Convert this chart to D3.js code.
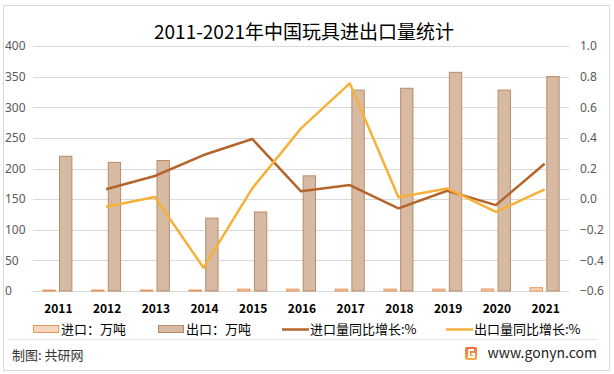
<!DOCTYPE html>
<html>
<head>
<meta charset="utf-8">
<script src="https://cdn.jsdelivr.net/npm/d3@7"></script>
<style>
    body { margin: 0; background: #fff; }
    svg text { font-family: "Noto Sans CJK SC", "Noto Sans", sans-serif; }
    .tick text { fill: #595959; font-size: 12px; font-family: "Noto Sans", "Liberation Sans", sans-serif; }
</style>
</head>
<body>
<script>
// Werte
const years = ["2011", "2012", "2013", "2014", "2015", "2016", "2017", "2018", "2019", "2020", "2021"]
const importVol = [1.5, 1.5, 1.5, 1.5, 3, 3, 3, 3, 3, 3.3, 5.4]
const exportVol = [220, 210, 213, 119, 129, 188, 328, 331, 357, 328, 350]
const importGrowth = [null, 0.064, 0.151, 0.288, 0.393, 0.051, 0.092, -0.06, 0.055, -0.039, 0.231]
const exportGrowth = [null, -0.05, 0.014, -0.448, 0.07, 0.462, 0.756, 0.012, 0.07, -0.084, 0.064]
const leftTicks = [0, 50, 100, 150, 200, 250, 300, 350, 400]
const rightTicks = [-0.6, -0.4, -0.2, 0, 0.2, 0.4, 0.6, 0.8, 1.0]
const barNames = ["进口：万吨", "出口：万吨"]
const lineNames = ["进口量同比增长:%", "出口量同比增长:%"]

const chartW = 614, chartH = 374
const plotLeft = 33, plotRight = 569, plotTop = 46, plotBottom = 291

const svg = d3.select("body").append("svg")
    .attr("width", chartW)
    .attr("height", chartH)

// Rahmen
svg.append("rect")
    .attr("x", 3.5).attr("y", 5.5)
    .attr("width", 606).attr("height", 365)
    .attr("fill", "#fff")
    .attr("stroke", "#d9d9d9")

const x0 = d3.scaleBand().domain(years).range([plotLeft, plotRight]).paddingInner(0.384).paddingOuter(0.192)
const x1 = d3.scaleBand().domain(barNames).range([0, x0.bandwidth()]).paddingInner(0.2)
const yL = d3.scaleLinear().domain([0, 400]).range([plotBottom, plotTop])
const yR = d3.scaleLinear().domain([-0.6, 1.0]).range([plotBottom, plotTop])

// Gitterlinien
svg.append("g")
    .selectAll("line")
    .data(leftTicks)
    .join("line")
    .attr("x1", plotLeft).attr("x2", plotRight)
    .attr("y1", d => Math.round(yL(d)) + 0.5)
    .attr("y2", d => Math.round(yL(d)) + 0.5)
    .attr("stroke", "#d9d9d9")

const axisL = svg.append("g")
    .attr("transform", `translate(${plotLeft - 10},0)`)
    .call(d3.axisLeft(yL).tickValues(leftTicks).tickSize(0).tickPadding(0))
axisL.select(".domain").remove()
axisL.selectAll(".tick text").attr("x", -18).attr("text-anchor", "start")

const axisR = svg.append("g")
    .attr("transform", `translate(${plotRight + 11},0)`)
    .call(d3.axisRight(yR).tickValues(rightTicks).tickSize(0).tickPadding(0).tickFormat(d3.format(".1f")))
axisR.select(".domain").remove()

// Jahre unten
svg.append("g")
    .selectAll("text")
    .data(years)
    .join("text")
    .attr("x", d => x0(d) + x0.bandwidth() / 2 + 1)
    .attr("y", 313)
    .attr("text-anchor", "middle")
    .attr("font-size", 12)
    .attr("font-weight", "bold")
    .attr("fill", "#000")
    .text(d => d)

// Balken
const barStyle = [
    { fill: "#f8d6bd", stroke: "#e5945a" },
    { fill: "#d7baa3", stroke: "#bb8b66" }
]
const barData = [importVol, exportVol]

barNames.forEach((name, i) => {
    svg.append("g")
        .selectAll("rect")
        .data(years)
        .join("rect")
        .attr("x", d => x0(d) + x1(name) + 0.5)
        .attr("y", (d, j) => yL(barData[i][j]))
        .attr("width", x1.bandwidth() - 1)
        .attr("height", (d, j) => plotBottom - yL(barData[i][j]))
        .attr("fill", barStyle[i].fill)
        .attr("stroke", barStyle[i].stroke)
        .attr("stroke-width", 1)
})

// Linien
const lineColors = ["#b5652b", "#f5b13a"]
const lineData = [importGrowth, exportGrowth]

lineData.forEach((values, i) => {
    const line = d3.line()
        .defined(d => d.v != null)
        .x(d => x0(d.year) + x0.bandwidth() / 2)
        .y(d => yR(d.v))
    svg.append("path")
        .datum(years.map((year, j) => ({ year: year, v: values[j] })))
        .attr("d", line)
        .attr("fill", "none")
        .attr("stroke", lineColors[i])
        .attr("stroke-width", 2.5)
        .attr("stroke-linejoin", "round")
})

// Titel
svg.append("text")
    .attr("x", 304).attr("y", 39)
    .attr("text-anchor", "middle")
    .attr("font-size", 19)
    .attr("fill", "#000")
    .text("2011-2021年中国玩具进出口量统计")

// Legende
const legend = svg.append("g").attr("font-size", 13).attr("fill", "#000")
const barLegendX = [33, 158]
barNames.forEach((name, i) => {
    legend.append("rect")
        .attr("x", barLegendX[i] + 0.5).attr("y", 325.5)
        .attr("width", 25).attr("height", 7)
        .attr("fill", barStyle[i].fill)
        .attr("stroke", barStyle[i].stroke)
    legend.append("text")
        .attr("x", barLegendX[i] + 28).attr("y", 334)
        .text(name)
})
const lineLegendX = [282, 446]
lineNames.forEach((name, i) => {
    legend.append("line")
        .attr("x1", lineLegendX[i]).attr("x2", lineLegendX[i] + 27)
        .attr("y1", 329.5).attr("y2", 329.5)
        .attr("stroke", lineColors[i])
        .attr("stroke-width", 2.5)
    legend.append("text")
        .attr("x", lineLegendX[i] + 28).attr("y", 334)
        .text(name)
})

// Trennlinie und Fußzeile
svg.append("line")
    .attr("x1", 8).attr("x2", 597)
    .attr("y1", 339.5).attr("y2", 339.5)
    .attr("stroke", "#e3e3e3")

svg.append("text")
    .attr("x", 12).attr("y", 360)
    .attr("font-size", 13)
    .attr("fill", "#333")
    .text("制图: 共研网")

svg.append("text")
    .attr("x", 597).attr("y", 358)
    .attr("text-anchor", "end")
    .attr("font-size", 14)
    .attr("font-family", "'Noto Sans', sans-serif")
    .attr("fill", "#222")
    .text("www.gonyn.com")

// kleines Logo
const logo = svg.append("g").attr("transform", "translate(465,347)")
const grad = svg.append("defs").append("linearGradient")
    .attr("id", "logoGrad").attr("x1", 0).attr("y1", 0).attr("x2", 0).attr("y2", 1)
grad.append("stop").attr("offset", 0).attr("stop-color", "#f06a3a")
grad.append("stop").attr("offset", 1).attr("stop-color", "#f7b04a")
logo.append("rect")
    .attr("width", 12).attr("height", 13).attr("rx", 2)
    .attr("fill", "url(#logoGrad)")
logo.append("path")
    .attr("d", "M9 3 H4 V10 H9 V7 H6.5")
    .attr("fill", "none")
    .attr("stroke", "#fff")
    .attr("stroke-width", 1.8)
</script>
</body>
</html>
